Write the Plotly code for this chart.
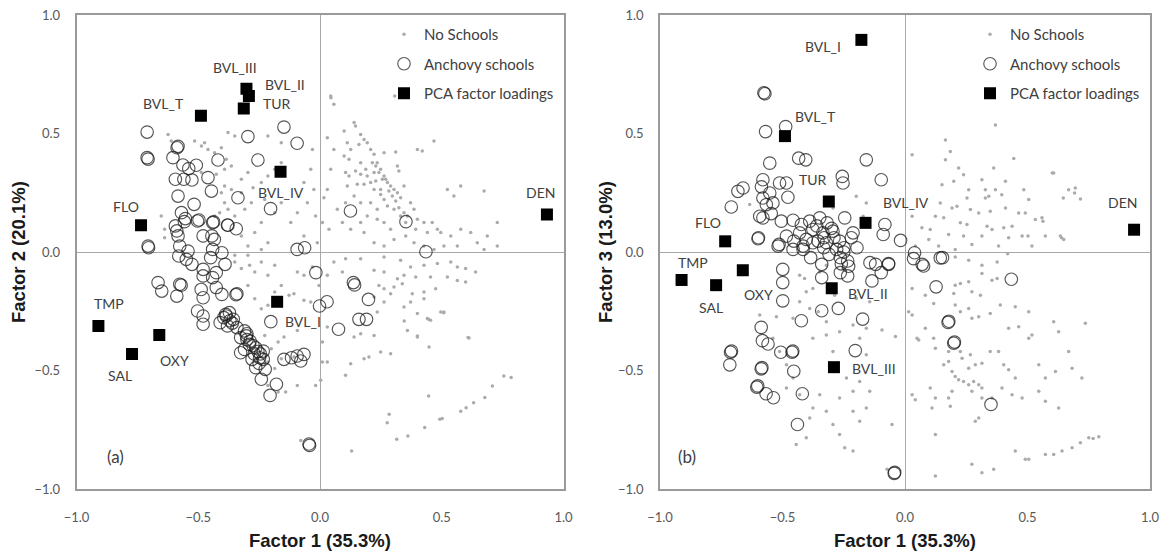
import plotly.graph_objects as go

# ---------------- data (factor scores) ----------------
variables = ["BVL_III", "BVL_II", "TUR", "BVL_T", "BVL_IV", "FLO", "DEN", "TMP", "OXY", "SAL", "BVL_I"]
load_f1 = [-0.302, -0.292, -0.313, -0.489, -0.162, -0.735, 0.932, -0.910, -0.660, -0.772, -0.176]
load_f2 = [0.689, 0.658, 0.606, 0.575, 0.339, 0.113, 0.158, -0.312, -0.350, -0.430, -0.210]

variables_b = ["BVL_I", "BVL_T", "TUR", "BVL_IV", "FLO", "DEN", "OXY", "TMP", "SAL", "BVL_II", "BVL_III"]
load_b_f1 = [-0.178, -0.490, -0.311, -0.161, -0.734, 0.935, -0.662, -0.912, -0.771, -0.299, -0.290]
load_b_f3 = [0.895, 0.489, 0.213, 0.123, 0.045, 0.094, -0.077, -0.118, -0.140, -0.153, -0.486]

# Anchovy schools, factor 1 vs factor 2
schools_f1f2 = [
    (-0.710, 0.506), (-0.710, 0.398), (-0.706, 0.392), (-0.587, 0.440), (-0.583, 0.446), (-0.604, 0.398),
    (-0.563, 0.367), (-0.539, 0.352), (-0.508, 0.366), (-0.594, 0.307), (-0.559, 0.307), (-0.526, 0.304),
    (-0.460, 0.314), (-0.446, 0.257), (-0.419, 0.388), (-0.296, 0.487), (-0.255, 0.388), (-0.583, 0.236),
    (-0.517, 0.201), (-0.337, 0.229), (-0.203, 0.183), (-0.569, 0.166), (-0.553, 0.141), (-0.497, 0.135),
    (-0.437, 0.127), (-0.378, 0.113), (-0.344, 0.098), (-0.594, 0.110), (-0.583, 0.068), (-0.480, 0.068),
    (-0.444, 0.068), (-0.706, 0.025), (-0.148, 0.527), (-0.094, 0.459), (-0.557, 0.128), (-0.503, 0.131),
    (-0.441, 0.124), (-0.380, 0.114), (-0.588, 0.089), (-0.434, 0.053), (-0.576, 0.025), (-0.542, 0.004),
    (-0.441, 0.011), (-0.403, -0.003), (-0.704, 0.018), (-0.094, 0.011), (-0.063, 0.018), (0.125, 0.173),
    (0.353, 0.128), (0.435, 0.001), (-0.017, -0.087), (0.137, -0.129), (-0.580, -0.017), (-0.549, -0.031),
    (-0.526, -0.052), (-0.480, -0.073), (-0.449, -0.024), (-0.426, -0.087), (-0.390, -0.052), (-0.480, -0.101),
    (-0.441, -0.108), (-0.665, -0.129), (-0.650, -0.165), (-0.576, -0.136), (-0.570, -0.140), (-0.588, -0.186),
    (-0.488, -0.158), (-0.480, -0.193), (-0.426, -0.150), (-0.403, -0.179), (-0.341, -0.176), (-0.345, -0.180),
    (-0.503, -0.249), (-0.480, -0.270), (-0.480, -0.305), (-0.410, -0.298), (-0.387, -0.263), (-0.372, -0.256),
    (-0.395, -0.277), (-0.356, -0.284), (-0.380, -0.312), (-0.341, -0.319), (-0.310, -0.333), (-0.302, -0.354),
    (-0.326, -0.361), (-0.287, -0.376), (-0.264, -0.404), (-0.310, -0.411), (-0.233, -0.418), (-0.248, -0.446),
    (-0.279, -0.453), (-0.326, -0.425), (-0.233, -0.453), (-0.264, -0.488), (-0.225, -0.495), (-0.241, -0.537),
    (-0.179, -0.558), (-0.205, -0.605), (-0.202, -0.294), (-0.148, -0.453), (-0.117, -0.446), (-0.094, -0.439),
    (-0.066, -0.432), (-0.079, -0.460), (-0.043, -0.816), (-0.045, -0.810), (0.029, -0.210), (-0.002, -0.228),
    (0.076, -0.326), (0.142, -0.139), (0.199, -0.200), (0.160, -0.284), (0.191, -0.284), (-0.385, -0.270),
    (-0.370, -0.290), (-0.300, -0.370), (-0.290, -0.390), (-0.270, -0.430), (-0.255, -0.420), (-0.250, -0.470),
    (-0.300, -0.345), (-0.360, -0.300), (-0.275, -0.395), (-0.245, -0.430),
]

# No schools, factor 1 vs factor 2
noschools_f1f2 = [
    (0.057, -0.042), (0.105, -0.028), (0.167, -0.028), (0.263, -0.021), (0.331, -0.035), (0.372, -0.063),
    (0.427, -0.056), (0.482, -0.049), (0.537, -0.042), (0.564, -0.063), (0.598, -0.070), (0.639, -0.084),
    (0.030, -0.098), (0.092, -0.084), (0.222, -0.077), (0.263, -0.084), (0.318, -0.113), (0.345, -0.098),
    (0.393, -0.105), (0.454, -0.105), (0.523, -0.105), (0.564, -0.120), (0.598, -0.127), (0.242, -0.141),
    (0.263, -0.155), (0.304, -0.148), (0.338, -0.134), (0.379, -0.176), (0.427, -0.169), (0.475, -0.155),
    (0.222, -0.190), (0.290, -0.176), (0.263, -0.211), (0.345, -0.232), (0.372, -0.211), (0.427, -0.197),
    (0.496, -0.253), (0.509, -0.253), (0.441, -0.281), (0.454, -0.288), (0.400, -0.260), (0.359, -0.331),
    (0.400, -0.359), (0.612, -0.363), (0.448, -0.401), (0.235, -0.253), (0.222, -0.352), (0.167, -0.345),
    (0.140, -0.359), (0.181, -0.450), (0.201, -0.443), (0.249, -0.422), (0.290, -0.429), (0.126, -0.471),
    (0.105, -0.520), (0.030, -0.316), (0.010, -0.380), (0.030, -0.464), (-0.018, -0.563), (0.003, -0.541),
    (-0.093, -0.563), (-0.141, -0.591), (-0.107, -0.176), (-0.127, -0.183), (-0.031, -0.063), (-0.066, -0.098),
    (-0.093, -0.084), (-0.004, -0.141), (-0.038, -0.211), (-0.066, -0.204), (-0.093, -0.331), (-0.148, -0.359),
    (0.010, -0.464), (-0.107, -0.443), (0.755, -0.523), (0.785, -0.530), (0.708, -0.565), (0.677, -0.614),
    (0.631, -0.636), (0.600, -0.657), (0.578, -0.672), (0.492, -0.706), (0.446, -0.608), (0.430, -0.741),
    (0.361, -0.776), (0.315, -0.790), (0.276, -0.720), (0.284, -0.685), (0.130, -0.840), (0.608, -0.361),
    (0.508, -0.256), (0.446, -0.284), (0.400, -0.354), (0.346, -0.291), (0.502, -0.703), (-0.079, -0.795),
    (0.044, 0.658), (0.057, 0.623), (0.140, 0.546), (0.146, 0.532), (0.167, 0.496), (0.181, 0.475),
    (0.194, 0.461), (0.160, 0.454), (0.208, 0.433), (0.222, 0.412), (0.235, 0.377), (0.249, 0.349),
    (0.263, 0.321), (0.270, 0.307), (0.277, 0.293), (0.290, 0.278), (0.304, 0.264), (0.318, 0.250),
    (0.331, 0.229), (0.263, 0.419), (0.099, 0.511), (0.112, 0.461), (0.126, 0.433), (0.119, 0.391),
    (0.099, 0.405), (0.188, 0.349), (0.167, 0.328), (0.146, 0.342), (0.119, 0.321), (0.208, 0.293),
    (0.181, 0.286), (0.222, 0.264), (0.249, 0.243), (0.263, 0.222), (0.277, 0.194), (0.208, 0.208),
    (0.235, 0.180), (0.304, 0.180), (0.324, 0.187), (0.345, 0.166), (0.359, 0.152), (0.372, 0.208),
    (0.386, 0.180), (0.400, 0.138), (0.427, 0.124), (0.461, 0.124), (0.482, 0.096), (0.496, 0.082),
    (0.441, 0.082), (0.393, 0.096), (0.400, 0.433), (0.420, 0.426), (0.468, 0.468), (0.318, 0.363),
    (0.324, 0.342), (0.345, 0.278), (0.523, 0.264), (0.550, 0.236), (0.578, 0.278), (0.674, 0.257),
    (0.222, 0.335), (0.140, 0.236), (0.167, 0.208), (0.105, 0.208), (0.071, 0.180), (0.030, 0.264),
    (0.016, 0.229), (0.037, 0.096), (0.092, 0.124), (0.126, 0.096), (0.167, 0.124), (0.194, 0.152),
    (0.263, 0.124), (0.290, 0.096), (0.537, 0.068), (0.578, 0.096), (0.619, 0.082), (0.646, 0.039),
    (0.687, 0.068), (0.728, 0.124), (0.044, 0.349), (0.057, 0.433), (0.105, 0.335), (0.167, 0.377),
    (0.311, 0.422), (0.030, 0.482), (0.112, 0.278), (0.153, 0.286), (0.215, 0.377), (0.229, 0.363),
    (0.242, 0.335), (0.256, 0.307), (0.283, 0.257), (0.297, 0.236), (0.311, 0.215), (0.249, 0.264),
    (0.229, 0.300), (0.194, 0.321), (0.331, 0.152), (0.352, 0.124), (0.235, 0.138), (0.181, 0.082),
    (0.222, 0.039), (0.263, 0.025), (0.304, 0.053), (0.352, 0.068), (0.386, 0.039), (0.427, 0.025),
    (0.468, 0.011), (0.509, 0.025), (0.564, 0.025), (0.674, 0.011), (0.728, 0.025), (-0.011, 0.039),
    (0.010, 0.124), (-0.018, 0.152), (-0.025, 0.264), (-0.052, 0.208), (-0.066, 0.293), (-0.093, 0.166),
    (-0.120, 0.124), (-0.038, 0.349), (-0.031, 0.433), (-0.066, 0.068), (0.307, 0.658), (0.045, 0.651),
    (-0.624, 0.496), (-0.611, 0.468), (-0.515, 0.468), (-0.487, 0.447), (-0.460, 0.433), (-0.474, 0.461),
    (-0.433, 0.419), (-0.405, 0.440), (-0.385, 0.391), (-0.364, 0.363), (-0.487, 0.335), (-0.426, 0.328),
    (-0.392, 0.349), (-0.323, 0.307), (-0.296, 0.335), (-0.392, 0.278), (-0.405, 0.250), (-0.364, 0.264),
    (-0.323, 0.250), (-0.275, 0.271), (-0.241, 0.293), (-0.214, 0.321), (-0.186, 0.349), (-0.159, 0.377),
    (-0.392, 0.208), (-0.412, 0.166), (-0.378, 0.180), (-0.433, 0.152), (-0.350, 0.152), (-0.309, 0.180),
    (-0.282, 0.208), (-0.227, 0.222), (-0.186, 0.166), (-0.159, 0.208), (-0.241, 0.124), (-0.323, 0.068),
    (-0.268, 0.082), (-0.214, 0.039), (-0.296, 0.025), (-0.241, 0.011), (-0.638, 0.060), (-0.638, 0.096),
    (-0.652, 0.152), (-0.350, 0.489), (-0.378, 0.504), (-0.214, 0.489), (-0.159, 0.461),
    (-0.350, -0.042), (-0.323, -0.070), (-0.289, -0.056), (-0.268, -0.084), (-0.241, -0.042), (-0.214, -0.098),
    (-0.186, -0.056), (-0.296, -0.141), (-0.268, -0.197), (-0.241, -0.239), (-0.214, -0.225), (-0.186, -0.169),
    (-0.159, -0.141), (-0.227, -0.352), (-0.200, -0.408), (-0.172, -0.380), (-0.214, -0.464), (-0.186, -0.492),
    (-0.159, -0.450), (-0.214, -0.563), (-0.172, -0.591), (-0.350, -0.014), (-0.296, -0.014),
]

# Anchovy schools, factor 1 vs factor 3
schools_f1f3 = [
    (-0.576, 0.672), (-0.572, 0.668), (-0.569, 0.508), (-0.487, 0.529), (-0.434, 0.396), (-0.405, 0.389),
    (-0.552, 0.375), (-0.580, 0.305), (-0.586, 0.275), (-0.512, 0.291), (-0.484, 0.291), (-0.478, 0.231),
    (-0.552, 0.249), (-0.661, 0.270), (-0.682, 0.256), (-0.709, 0.190), (-0.580, 0.228), (-0.539, 0.207),
    (-0.566, 0.200), (-0.546, 0.162), (-0.593, 0.151), (-0.580, 0.144), (-0.505, 0.130), (-0.457, 0.134),
    (-0.423, 0.116), (-0.389, 0.130), (-0.348, 0.144), (-0.318, 0.123), (-0.376, 0.095), (-0.335, 0.081),
    (-0.294, 0.088), (-0.246, 0.144), (-0.212, 0.081), (-0.253, 0.291), (-0.158, 0.389), (-0.430, 0.081),
    (-0.484, 0.067), (-0.600, 0.056), (-0.518, 0.025), (-0.403, 0.053), (-0.321, 0.039), (-0.267, 0.046),
    (-0.457, 0.011), (-0.416, 0.025), (-0.376, 0.039), (-0.256, 0.319), (-0.097, 0.305), (-0.082, 0.116),
    (-0.089, 0.074), (-0.018, 0.049), (0.039, -0.003), (0.070, -0.052), (0.153, -0.024), (0.434, -0.115),
    (-0.143, -0.045), (-0.120, -0.052), (-0.067, -0.052), (-0.097, -0.087), (-0.196, 0.018), (-0.264, -0.024),
    (-0.234, -0.038), (-0.279, 0.011), (-0.385, -0.024), (-0.340, -0.052), (-0.499, -0.073), (-0.514, 0.032),
    (-0.598, 0.060), (-0.454, 0.046), (-0.416, 0.011), (-0.355, 0.046), (-0.332, 0.018), (-0.310, -0.010),
    (-0.249, 0.018), (-0.219, 0.060), (-0.499, -0.129), (-0.499, -0.206), (-0.340, -0.108), (-0.272, -0.238),
    (-0.340, -0.248), (-0.423, -0.290), (-0.173, -0.283), (-0.587, -0.318), (-0.582, -0.374), (-0.559, -0.388),
    (-0.507, -0.423), (-0.461, -0.423), (-0.458, -0.418), (-0.203, -0.416), (-0.712, -0.423), (-0.708, -0.418),
    (-0.715, -0.476), (-0.587, -0.493), (-0.584, -0.488), (-0.454, -0.503), (-0.605, -0.570), (-0.601, -0.565),
    (-0.567, -0.598), (-0.537, -0.615), (-0.419, -0.598), (-0.439, -0.728), (-0.044, -0.934), (-0.042, -0.930),
    (0.127, -0.147), (0.176, -0.297), (0.179, -0.292), (0.199, -0.385), (0.202, -0.380), (0.351, -0.643),
    (-0.264, -0.087), (-0.234, -0.101), (-0.135, -0.122), (0.144, -0.025), (0.076, -0.059), (0.035, -0.028),
    (-0.067, -0.049), (-0.300, 0.100), (-0.330, 0.060), (-0.360, 0.110), (-0.290, 0.060), (-0.250, 0.000),
    (-0.230, -0.060), (-0.260, -0.050),
]

# No schools, factor 1 vs factor 3
noschools_f1f3 = [
    (0.369, 0.536), (0.165, 0.473), (0.185, 0.424), (0.029, 0.410), (0.165, 0.389), (0.444, 0.394),
    (0.219, 0.354), (0.362, 0.354), (0.607, 0.333), (0.239, 0.326), (0.314, 0.305), (0.151, 0.284),
    (0.199, 0.298), (0.410, 0.298), (0.485, 0.263), (0.328, 0.263), (0.369, 0.263), (0.260, 0.263),
    (0.668, 0.263), (0.695, 0.270), (0.505, 0.221), (0.253, 0.228), (0.328, 0.228), (0.342, 0.235),
    (0.395, 0.242), (0.716, 0.224), (0.144, 0.207), (0.192, 0.186), (0.212, 0.193), (0.267, 0.179),
    (0.301, 0.165), (0.348, 0.172), (0.410, 0.186), (0.464, 0.165), (0.491, 0.165), (0.532, 0.137),
    (0.559, 0.144), (0.124, 0.151), (0.158, 0.144), (0.226, 0.123), (0.253, 0.116), (0.335, 0.109),
    (0.355, 0.095), (0.403, 0.102), (0.437, 0.109), (0.069, 0.102), (0.103, 0.095), (0.029, 0.151),
    (0.178, 0.074), (0.239, 0.067), (0.314, 0.067), (0.423, 0.060), (0.478, 0.067), (0.573, 0.067),
    (0.634, 0.067), (0.648, 0.053), (0.097, 0.053), (0.137, 0.025), (0.273, 0.032), (0.205, 0.011),
    (0.382, 0.025), (0.518, 0.025), (0.042, 0.025), (0.601, 0.333), (0.646, 0.228), (0.692, 0.249),
    (0.502, 0.067), (0.563, 0.130), (0.639, 0.060),
    (0.205, -0.021), (0.260, -0.035), (0.314, -0.056), (0.376, -0.042), (0.419, -0.007), (0.314, -0.091),
    (0.355, -0.119), (0.376, -0.112), (0.205, -0.140), (0.226, -0.133), (0.260, -0.126), (0.273, -0.168),
    (0.308, -0.182), (0.199, -0.175), (0.117, -0.217), (0.205, -0.224), (0.226, -0.252), (0.260, -0.238),
    (0.273, -0.280), (0.301, -0.273), (0.348, -0.259), (0.389, -0.224), (0.450, -0.231), (0.505, -0.252),
    (0.029, -0.266), (0.015, -0.252), (0.083, -0.322), (0.117, -0.364), (0.056, -0.371), (0.124, -0.406),
    (0.178, -0.462), (0.158, -0.476), (0.192, -0.504), (0.205, -0.525), (0.219, -0.539), (0.239, -0.546),
    (0.260, -0.560), (0.280, -0.546), (0.301, -0.560), (0.314, -0.574), (0.260, -0.490), (0.287, -0.476),
    (0.314, -0.469), (0.348, -0.420), (0.382, -0.420), (0.403, -0.476), (0.423, -0.497), (0.450, -0.532),
    (0.233, -0.448), (0.178, -0.420), (0.226, -0.420), (0.267, -0.434), (0.192, -0.588), (0.178, -0.616),
    (0.124, -0.616), (0.103, -0.574), (0.029, -0.602), (0.042, -0.623), (0.185, -0.651), (0.273, -0.588),
    (0.314, -0.616), (0.355, -0.616), (0.396, -0.574), (0.437, -0.602), (0.478, -0.616), (0.546, -0.588),
    (0.573, -0.630), (0.627, -0.658), (0.518, -0.350), (0.464, -0.315), (0.423, -0.322), (0.505, -0.364),
    (0.546, -0.476), (0.573, -0.532), (0.614, -0.504), (0.682, -0.490), (0.722, -0.532), (0.607, -0.294),
    (0.736, -0.301), (0.668, -0.420), (0.627, -0.336), (0.287, -0.714), (0.301, -0.700), (0.124, -0.770),
    (0.273, -0.896), (0.314, -0.931), (0.362, -0.917), (0.450, -0.840), (0.491, -0.875), (0.505, -0.875),
    (0.573, -0.854), (0.607, -0.854), (0.641, -0.840), (0.682, -0.826), (0.716, -0.805), (0.750, -0.784),
    (0.124, -0.945), (0.029, -0.154), (0.083, -0.182), (0.049, -0.364), (0.110, -0.658), (0.768, -0.787),
    (0.791, -0.780),
    (-0.593, -0.266), (-0.525, -0.273), (-0.457, -0.280), (-0.430, -0.210), (-0.410, -0.112), (-0.389, -0.238),
    (-0.354, -0.252), (-0.321, -0.294), (-0.287, -0.182), (-0.321, -0.350), (-0.376, -0.364), (-0.267, -0.336),
    (-0.212, -0.308), (-0.185, -0.364), (-0.158, -0.322), (-0.512, -0.420), (-0.457, -0.532), (-0.484, -0.574),
    (-0.430, -0.602), (-0.376, -0.658), (-0.348, -0.602), (-0.389, -0.700), (-0.321, -0.672), (-0.294, -0.728),
    (-0.267, -0.770), (-0.246, -0.826), (-0.403, -0.784), (-0.444, -0.812), (-0.212, -0.588), (-0.239, -0.532),
    (-0.267, -0.616), (-0.212, -0.672), (-0.185, -0.714), (-0.158, -0.658), (-0.185, -0.546), (-0.144, -0.588),
    (-0.321, -0.056), (-0.253, -0.070), (-0.376, -0.154), (-0.430, -0.098), (-0.403, -0.168), (-0.348, -0.084),
    (-0.144, -0.210), (-0.199, -0.196), (-0.158, -0.434), (-0.294, -0.420), (-0.539, -0.364), (-0.484, -0.476),
    (-0.212, -0.840), (-0.094, -0.329), (-0.039, -0.357), (-0.053, -0.728), (-0.073, -0.917),
    (-0.294, 0.186), (-0.199, 0.235), (-0.158, 0.207), (-0.171, 0.151), (-0.634, 0.200),
]

legend_names = ["No Schools", "Anchovy schools", "PCA factor loadings"]
axis_ticks = [-1.0, -0.5, 0.0, 0.5, 1.0]

# ---------------- styling ----------------
# pixel offsets of each loading label from its square
label_shift_a = {"BVL_III": (-11, 21), "BVL_II": (36, 12), "TUR": (33, 5), "BVL_T": (-37, 12),
                 "BVL_IV": (0, -21), "FLO": (-15, 19), "DEN": (-6, 22), "TMP": (11, 22),
                 "SAL": (-12, -22), "OXY": (15, -26), "BVL_I": (26, -20)}
label_shift_b = {"BVL_I": (-38, -7), "BVL_T": (31, 20), "TUR": (-16, 22), "BVL_IV": (40, 20),
                 "FLO": (-17, 19), "DEN": (-12, 27), "OXY": (16, -24), "TMP": (11, 17),
                 "SAL": (-5, -22), "BVL_II": (36, -5), "BVL_III": (40, -1)}

W, H = 1163, 554
DOT = dict(size=3.5, color="#ababab")
CIRC = dict(size=12.5, symbol="circle-open", color="rgba(30,30,30,0.75)", line=dict(width=1.15))
SQ = dict(size=12, symbol="square", color="black")
TXT = "#404040"

fig = go.Figure()


def add_panel(noschool, schools, lx, ly, names, shifts, xa, ya, legend):
    fig.add_trace(go.Scatter(x=[p[0] for p in noschool], y=[p[1] for p in noschool], mode="markers",
                             marker=DOT, name=legend_names[0], xaxis=xa, yaxis=ya,
                             legend=legend, legendgroup="a"))
    fig.add_trace(go.Scatter(x=[p[0] for p in schools], y=[p[1] for p in schools], mode="markers",
                             marker=CIRC, name=legend_names[1], xaxis=xa, yaxis=ya,
                             legend=legend, legendgroup="b"))
    fig.add_trace(go.Scatter(x=lx, y=ly, mode="markers", marker=SQ, name=legend_names[2],
                             xaxis=xa, yaxis=ya, legend=legend, legendgroup="c"))
    for n, xv, yv in zip(names, lx, ly):
        dx, dy = shifts[n]
        fig.add_annotation(x=xv, y=yv, xref=xa, yref=ya, text=n, showarrow=False,
                           xshift=dx, yshift=dy, font=dict(family="Lato", size=14, color=TXT))


add_panel(noschools_f1f2, schools_f1f2, load_f1, load_f2, variables, label_shift_a, "x", "y", "legend")
add_panel(noschools_f1f3, schools_f1f3, load_b_f1, load_b_f3, variables_b, label_shift_b, "x2", "y2", "legend2")

ydom = [1 - 489 / H, 1 - 15 / H]
dom_a = [76.5 / W, 563.5 / W]
dom_b = [660 / W, 1150 / W]

common = dict(range=[-1, 1], tickvals=axis_ticks, tickformat=".1f", showgrid=False,
              zeroline=True, zerolinecolor="#a8a8a8", zerolinewidth=1,
              showline=True, mirror=True, linecolor="#9a9a9a", linewidth=1.5, automargin=False,
              ticks="", tickfont=dict(family="Lato", size=13, color="#595959"), fixedrange=True)

fig.update_layout(
    width=W, height=H, margin=dict(l=0, r=0, t=0, b=0, autoexpand=False),
    paper_bgcolor="white", plot_bgcolor="white",
    xaxis=dict(domain=dom_a, anchor="y", ticklabelstandoff=16, **common),
    yaxis=dict(domain=ydom, anchor="x", ticklabelstandoff=12, **common),
    xaxis2=dict(domain=dom_b, anchor="y2", ticklabelstandoff=16, **common),
    yaxis2=dict(domain=ydom, anchor="x2", ticklabelstandoff=12, **common),
    legend=dict(x=384 / W, y=1 - 18 / H, xanchor="left", yanchor="top", bgcolor="rgba(0,0,0,0)",
                font=dict(family="Lato", size=15, color=TXT), tracegroupgap=7, itemsizing="trace"),
    legend2=dict(x=970 / W, y=1 - 18 / H, xanchor="left", yanchor="top", bgcolor="rgba(0,0,0,0)",
                 font=dict(family="Lato", size=15, color=TXT), tracegroupgap=7, itemsizing="trace"),
)

# axis titles
title_font = dict(family="Liberation Sans", size=18.5, color="#1a1a1a", weight="bold")
axis_titles = [
    ("Factor 1 (35.3%)", 320 / W, 1 - 540 / H, 0),
    ("Factor 1 (35.3%)", 905 / W, 1 - 540 / H, 0),
    ("Factor 2 (20.1%)", 18 / W, 1 - 252 / H, -90),
    ("Factor 3 (13.0%)", 605 / W, 1 - 252 / H, -90),
]
for t, xp, yp, ang in axis_titles:
    fig.add_annotation(x=xp, y=yp, xref="paper", yref="paper", text=t, showarrow=False,
                       textangle=ang, xanchor="center", yanchor="middle", font=title_font)

fig.add_annotation(x=105 / W, y=1 - 469 / H, xref="paper", yref="paper", text="(a)", showarrow=False,
                   font=dict(family="Lato", size=17, color=TXT))
fig.add_annotation(x=687 / W, y=1 - 469 / H, xref="paper", yref="paper", text="(b)", showarrow=False,
                   font=dict(family="Lato", size=17, color=TXT))

# remove the browser's default page margin so the figure sits at the window's corner
fig.write_html("out.html", config={"displayModeBar": False},
               post_script="document.body.style.margin='0px';")
